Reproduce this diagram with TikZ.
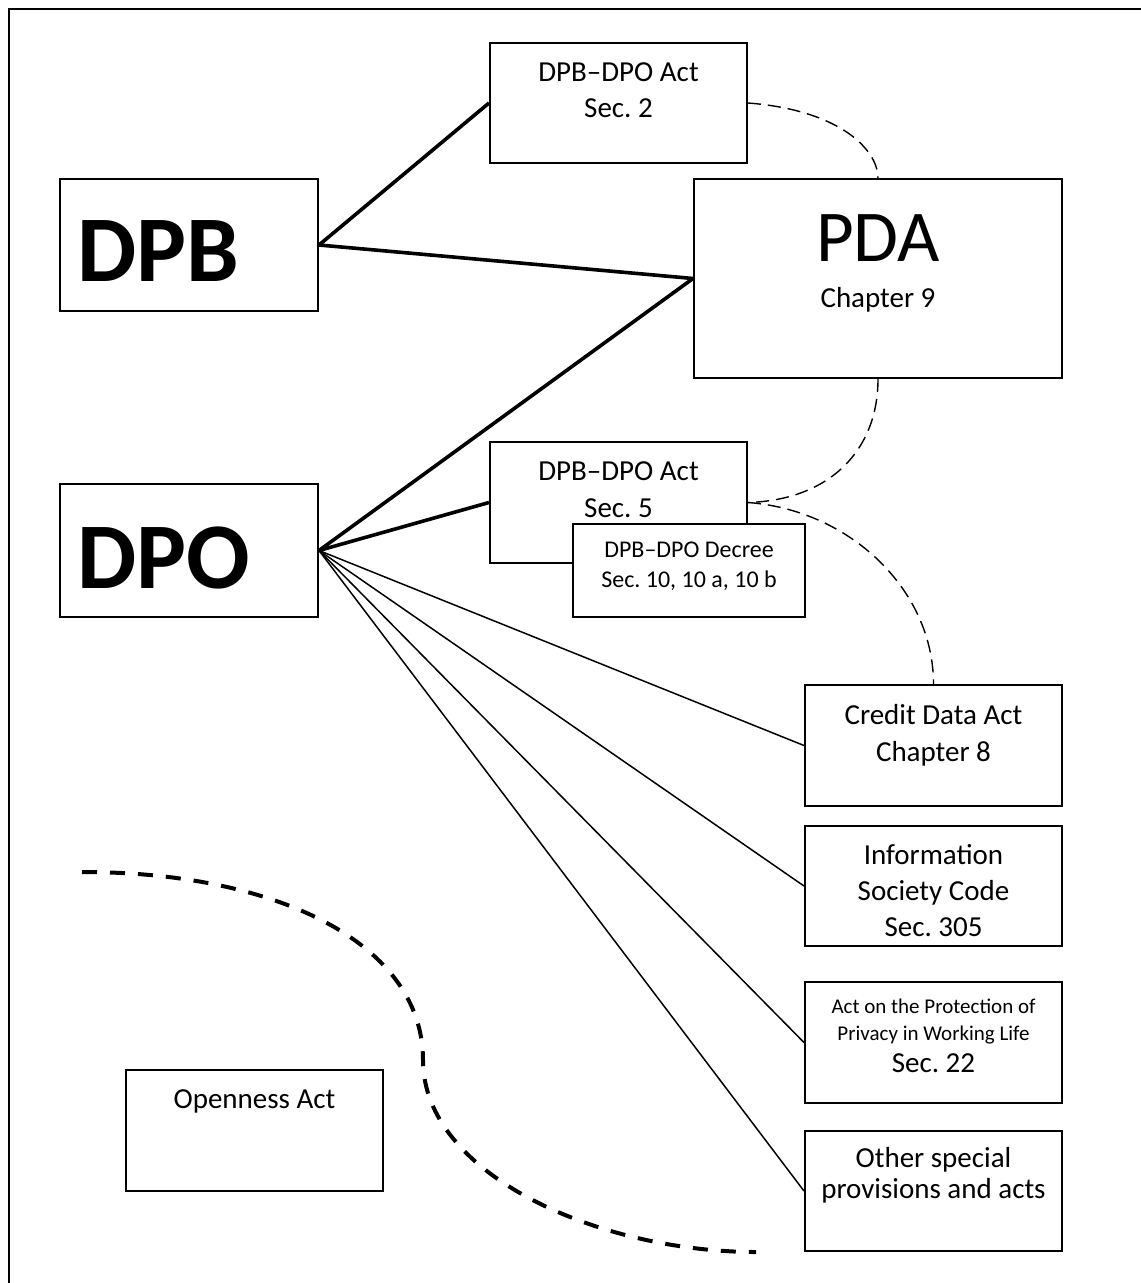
\documentclass[tikz,border=0pt]{standalone}
\usepackage{fontspec}
\setmainfont{Carlito}
\frenchspacing
\begin{document}
\begin{tikzpicture}[x=1pt,y=-1pt,
  box/.style={draw, line width=2pt, inner sep=0pt, fill=white, rectangle},
  thickcon/.style={line width=3.6pt},
  thincon/.style={line width=1.5pt},
  thindash/.style={line width=1.4pt, dash pattern=on 13pt off 7pt},
  bigdash/.style={line width=4pt, dash pattern=on 15pt off 13pt},
  txt/.style={inner sep=0pt, anchor=base, font=\fontsize{29}{34}\selectfont},
  txtsm/.style={inner sep=0pt, anchor=base, font=\fontsize{24}{29}\selectfont},
  txtxs/.style={inner sep=0pt, anchor=base, font=\fontsize{21}{25}\selectfont},
  big/.style={inner sep=0pt, anchor=base west, font=\bfseries\fontsize{94}{94}\selectfont}
]
\useasboundingbox (0,0) rectangle (1141,1283);
% frame
\draw[line width=2pt] (8.5,1283) -- (8.5,8.5) -- (1141,8.5);

% boxes
\node[box, minimum width=258pt, minimum height=132pt] (DPB) at (189,245) {};
\node[box, minimum width=258pt, minimum height=133pt] (DPO) at (189,550.5) {};
\node[box, minimum width=257pt, minimum height=120pt] (S2) at (618.5,103) {};
\node[box, minimum width=368pt, minimum height=199pt] (PDA) at (878,278.5) {};
\node[box, minimum width=257pt, minimum height=121pt] (S5) at (618.5,502.5) {};
\node[box, minimum width=232pt, minimum height=93pt] (DEC) at (689,570.5) {};
\node[box, minimum width=257pt, minimum height=121pt] (CRED) at (933.5,745.5) {};
\node[box, minimum width=257pt, minimum height=120pt] (INFO) at (933.5,886) {};
\node[box, minimum width=257pt, minimum height=121pt] (WORK) at (933.5,1042.5) {};
\node[box, minimum width=257pt, minimum height=120pt] (OTHER) at (933.5,1191) {};
\node[box, minimum width=257pt, minimum height=121pt] (OPEN) at (254.5,1130.5) {};

% texts
\node[big] (tDPB) at (77,281) {DPB};
\node[big] (tDPO) at (77,588) {DPO};
\node[txt] (tS2a) at (618.5,81) {DPB–DPO Act};
\node[txt] (tS2b) at (618.5,117) {Sec. 2};
\node[inner sep=0pt, anchor=base, font=\fontsize{73}{73}\selectfont] (tPDA) at (878,261) {PDA};
\node[txt] (tPDAb) at (878,307) {Chapter 9};
\node[txt] (tS5a) at (618.5,480) {DPB–DPO Act};
\node[txt] (tS5b) at (618.5,517) {Sec. 5};
\node[txtsm] (tDECa) at (689,557) {DPB–DPO Decree};
\node[txtsm] (tDECb) at (689,587) {Sec. 10, 10 a, 10 b};
\node[txt] (tCa) at (933.5,724) {Credit Data Act};
\node[txt] (tCb) at (933.5,761) {Chapter 8};
\node[txt] (tIa) at (933.5,864.5) {Information};
\node[txt] (tIb) at (933.5,900) {Society Code};
\node[txt] (tIc) at (933.5,936) {Sec. 305};
\node[txtxs] (tWa) at (933.5,1013) {Act on the Protection of};
\node[txtxs] (tWb) at (933.5,1040) {Privacy in Working Life};
\node[txt] (tWc) at (933.5,1072.5) {Sec. 22};
\node[txt] (tOa) at (933.5,1167) {Other special};
\node[txt] (tOb) at (933.5,1198.5) {provisions and acts};
\node[txt] (tOP) at (254.5,1108) {Openness Act};

% thick connectors
\draw[thickcon] (DPB.east) -- (S2.west);
\draw[thickcon] (DPB.east) -- (PDA.west);
\draw[thickcon] (DPO.east) -- (PDA.west);
\draw[thickcon] (DPO.east) -- (S5.west);
% thin connectors
\draw[thincon] (DPO.east) -- (CRED.west);
\draw[thincon] (DPO.east) -- (INFO.west);
\draw[thincon] (DPO.east) -- (WORK.west);
\draw[thincon] (DPO.east) -- (OTHER.west);

% dashed curves
\draw[thindash] (S2.east) .. controls (840,110) and (878,150) .. (PDA.north);
\draw[thindash] (PDA.south) .. controls (878,450) and (830,500) .. (S5.east);
\draw[thindash] (S5.east) .. controls (850,510) and (933.5,590) .. (CRED.north);

% big dashed boundary
\coordinate (bdA) at (82,872);
\coordinate (bdB) at (423,1060);
\coordinate (bdC) at (756,1252);
\draw[bigdash] (bdA) .. controls (280,872) and (423,945) .. (bdB)
  .. controls (423,1175) and (600,1252) .. (bdC);
\end{tikzpicture}
\end{document}
